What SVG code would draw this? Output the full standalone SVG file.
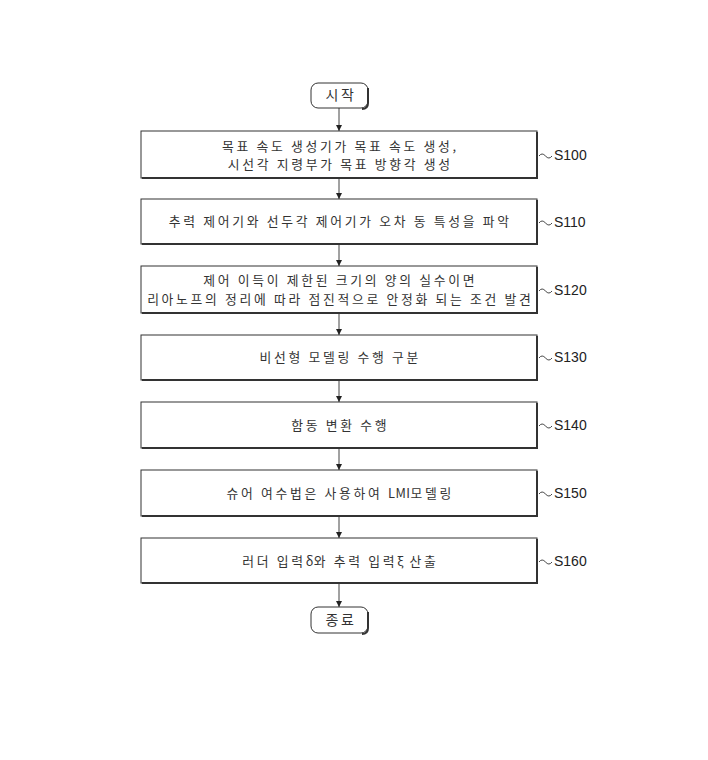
<svg xmlns="http://www.w3.org/2000/svg" width="708" height="760" viewBox="0 0 708 760">
<style>
.box{fill:#fff;stroke:#333;stroke-width:1}
.sh{fill:none;stroke:#333;stroke-width:2}
.t{font-family:"Noto Sans CJK KR","Noto Sans",sans-serif;font-size:12.8px;letter-spacing:2.7px;fill:#333;text-anchor:middle}
.n{letter-spacing:0.5px}
.lb{font-family:"Liberation Sans",Arial,sans-serif;font-size:14px;fill:#222}
.ln{fill:none;stroke:#444;stroke-width:1}
</style>
<defs>
<marker id="ah" viewBox="0 0 8 10" refX="8" refY="5" markerWidth="6" markerHeight="8" orient="auto" markerUnits="userSpaceOnUse"><path d="M0,1 L8,5 L0,9 z" fill="#222"/></marker>
</defs>
<rect width="708" height="760" fill="#fff"/>
<g id="connectors">
<line class="ln" x1="339" y1="108" x2="339" y2="131" marker-end="url(#ah)"/>
<line class="ln" x1="339" y1="178" x2="339" y2="199" marker-end="url(#ah)"/>
<line class="ln" x1="339" y1="244" x2="339" y2="266" marker-end="url(#ah)"/>
<line class="ln" x1="339" y1="313" x2="339" y2="335" marker-end="url(#ah)"/>
<line class="ln" x1="339" y1="380" x2="339" y2="402" marker-end="url(#ah)"/>
<line class="ln" x1="339" y1="448" x2="339" y2="470" marker-end="url(#ah)"/>
<line class="ln" x1="339" y1="516" x2="339" y2="538" marker-end="url(#ah)"/>
<line class="ln" x1="339" y1="583" x2="339" y2="607" marker-end="url(#ah)"/>
</g>
<g id="start">
<rect class="box" x="311" y="83" width="57" height="25" rx="7"/>
<path class="sh" d="M362,109 Q368,109 368,103 L368,88"/>
<text class="t" x="341" y="100" style="font-size:14px">시작</text>
</g>
<g id="S100">
<rect class="box" x="141" y="131" width="396" height="47"/>
<path class="sh" d="M142,178 H537 V132"/>
<text class="t" x="340.3" y="150.5">목표 속도 생성기가 목표 속도 생성,</text>
<text class="t" x="340.3" y="169">시선각 지령부가 목표 방향각 생성</text>
<path class="ln" d="M539,156 q3,-4 6.5,0 t6.5,0"/>
<text class="lb" x="554" y="160">S100</text>
</g>
<g id="S110">
<rect class="box" x="141" y="199" width="396" height="45"/>
<path class="sh" d="M142,244 H537 V200"/>
<text class="t" x="340.3" y="226">추력 제어기와 선두각 제어기가 오차 동 특성을 파악</text>
<path class="ln" d="M539,223 q3,-4 6.5,0 t6.5,0"/>
<text class="lb" x="554" y="227">S110</text>
</g>
<g id="S120">
<rect class="box" x="141" y="266" width="396" height="47"/>
<path class="sh" d="M142,313 H537 V267"/>
<text class="t" x="340.3" y="285">제어 이득이 제한된 크기의 양의 실수이면</text>
<text class="t" x="340.3" y="303.5">리아노프의 정리에 따라 점진적으로 안정화 되는 조건 발견</text>
<path class="ln" d="M539,291 q3,-4 6.5,0 t6.5,0"/>
<text class="lb" x="554" y="295">S120</text>
</g>
<g id="S130">
<rect class="box" x="141" y="335" width="396" height="45"/>
<path class="sh" d="M142,380 H537 V336"/>
<text class="t" x="340.3" y="362">비선형 모델링 수행 구분</text>
<path class="ln" d="M539,358 q3,-4 6.5,0 t6.5,0"/>
<text class="lb" x="554" y="362">S130</text>
</g>
<g id="S140">
<rect class="box" x="141" y="402" width="396" height="46"/>
<path class="sh" d="M142,448 H537 V403"/>
<text class="t" x="340.3" y="430">함동 변환 수행</text>
<path class="ln" d="M539,426 q3,-4 6.5,0 t6.5,0"/>
<text class="lb" x="554" y="430">S140</text>
</g>
<g id="S150">
<rect class="box" x="141" y="470" width="396" height="46"/>
<path class="sh" d="M142,516 H537 V471"/>
<text class="t" x="340.3" y="498">슈어 여수법은 사용하여 <tspan class="n">LMI</tspan>모델링</text>
<path class="ln" d="M539,494 q3,-4 6.5,0 t6.5,0"/>
<text class="lb" x="554" y="498">S150</text>
</g>
<g id="S160">
<rect class="box" x="141" y="538" width="396" height="45"/>
<path class="sh" d="M142,583 H537 V539"/>
<text class="t" x="340.3" y="566">러더 입력<tspan class="n">δ</tspan>와 추력 입력<tspan class="n">ξ</tspan> 산출</text>
<path class="ln" d="M539,562 q3,-4 6.5,0 t6.5,0"/>
<text class="lb" x="554" y="566">S160</text>
</g>
<g id="end">
<rect class="box" x="311" y="607" width="57" height="26" rx="7"/>
<path class="sh" d="M362,634 Q368,634 368,628 L368,612"/>
<text class="t" x="341" y="625" style="font-size:14px">종료</text>
</g>
</svg>
